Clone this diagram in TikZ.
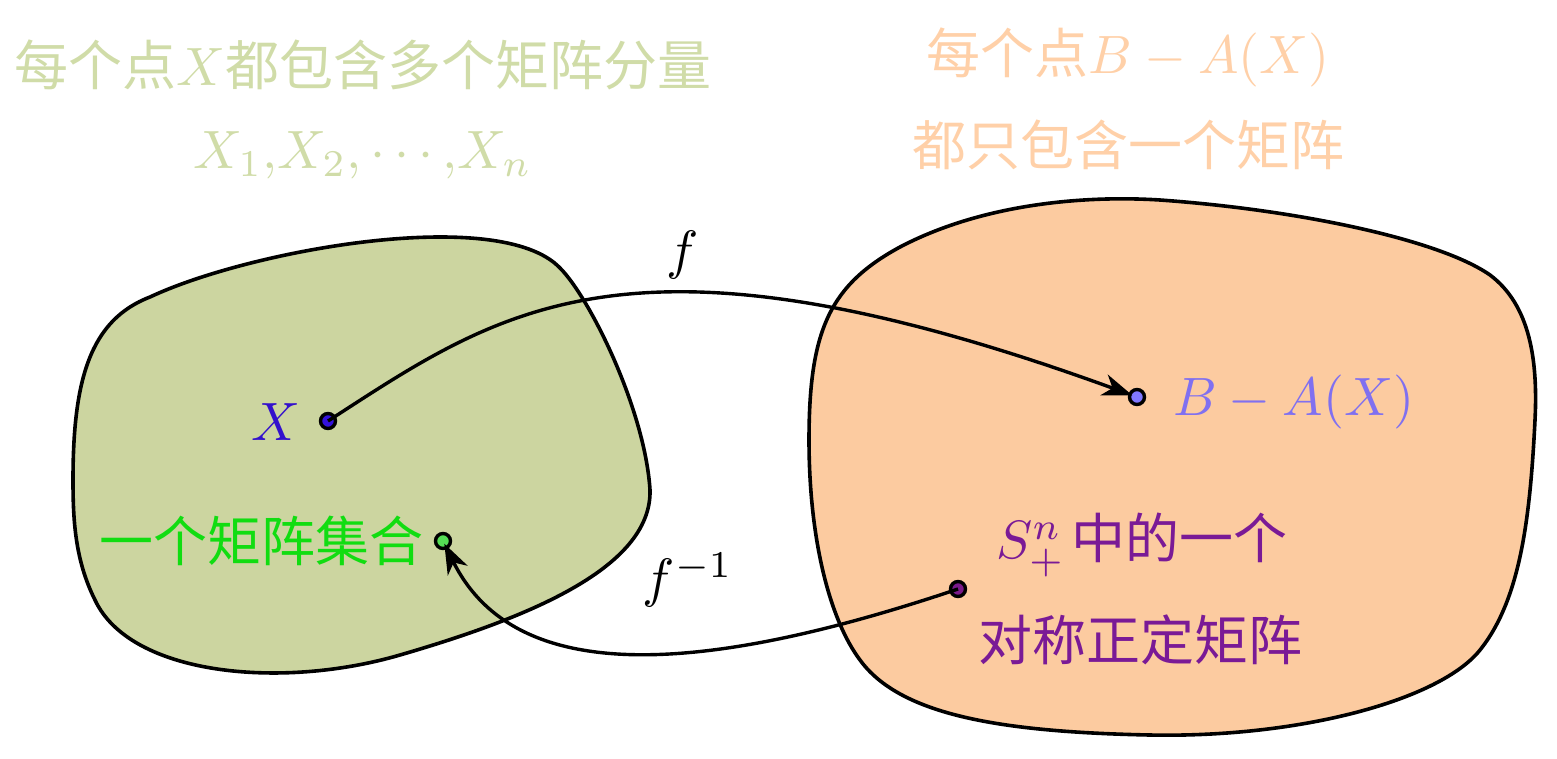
\documentclass[tikz,border=0pt]{standalone}
\usepackage{fontspec}
\newfontfamily\cjk{Noto Sans CJK SC}
\usetikzlibrary{arrows.meta}
\definecolor{blobL}{RGB}{204,213,160}
\definecolor{blobR}{RGB}{252,203,160}
\definecolor{txtL}{RGB}{208,220,168}
\definecolor{txtR}{RGB}{255,208,168}
\definecolor{xblue}{RGB}{51,17,204}
\definecolor{bblue}{RGB}{128,112,240}
\definecolor{ggreen}{RGB}{17,221,17}
\definecolor{ppurple}{RGB}{122,26,150}
\definecolor{dotX}{RGB}{51,17,220}
\definecolor{dotB}{RGB}{128,120,255}
\definecolor{dotG}{RGB}{85,221,85}
\definecolor{dotP}{RGB}{122,26,138}
\begin{document}
\begin{tikzpicture}[x=1pt,y=-1pt,
  blob/.style={draw=black,line width=3.6pt},
  dot/.style={circle,draw=black,line width=3.4pt,minimum size=15pt,inner sep=0pt},
  lbl/.style={font=\cjk,inner sep=0pt,scale=5.4},
  conn/.style={line width=3.4pt,-{Stealth[length=30pt,width=22pt,inset=9pt]}}
]
\useasboundingbox (0,0) rectangle (1557,758);
% left blob
\draw[blob,fill=blobL] (73,480)
  .. controls (73,380) and (90,320) .. (150,297)
  .. controls (250,250) and (500,205) .. (560,268)
  .. controls (590,298) and (645,410) .. (650,490)
  .. controls (652,570) and (520,620) .. (400,655)
  .. controls (280,690) and (130,675) .. (95,600)
  .. controls (75,560) and (73,520) .. cycle;
% right blob
\draw[blob,fill=blobR] (809,440)
  .. controls (809,330) and (830,285) .. (900,247)
  .. controls (980,205) and (1080,195) .. (1160,200)
  .. controls (1300,210) and (1440,240) .. (1490,275)
  .. controls (1530,305) and (1538,360) .. (1535,420)
  .. controls (1530,520) and (1520,600) .. (1480,650)
  .. controls (1440,700) and (1300,738) .. (1150,735)
  .. controls (1000,732) and (900,715) .. (860,660)
  .. controls (830,620) and (809,540) .. cycle;
% top texts
\node[lbl,text=txtL] (tl1) at (363,65) {每个点$X$都包含多个矩阵分量};
\node[lbl,text=txtL] (tl2) at (363,155) {$X_1{,}X_2{,}\cdots{,}X_n$};
\node[lbl,text=txtR] (tr1) at (1128,57) {每个点$B-A(X)$};
\node[lbl,text=txtR] (tr2) at (1128,145) {都只包含一个矩阵};
% dots
\node[dot,fill=dotX] (X) at (328,421) {};
\node[dot,fill=dotB] (B) at (1137,397) {};
\node[dot,fill=dotG] (G) at (443,541) {};
\node[dot,fill=dotP] (P) at (958,589) {};
% labels
\node[lbl,text=xblue,anchor=base east] (Xl) at (302,440) {$X$};
\node[lbl,text=bblue,anchor=base west] (Bl) at (1172,415) {$B-A(X)$};
\node[lbl,text=ggreen,anchor=east] (Gl) at (425,541) {一个矩阵集合};
\node[lbl,text=ppurple] (Pl1) at (1142,545) {$S_+^n$\hspace{0.12em}中的一个};
\node[lbl,text=ppurple] (Pl2) at (1140,640) {对称正定矩阵};
\node[lbl] (fl) at (683,255) {$f$};
\node[lbl] (fil) at (688,580) {$f^{-1}$};
% connectors
\draw[conn,shorten >=5pt] (X.center) .. controls (500,310) and (629,212) .. (B.center);
\draw[conn,shorten >=3pt] (P.center) .. controls (673,685) and (510,676) .. (G.center);
\end{tikzpicture}
\end{document}
